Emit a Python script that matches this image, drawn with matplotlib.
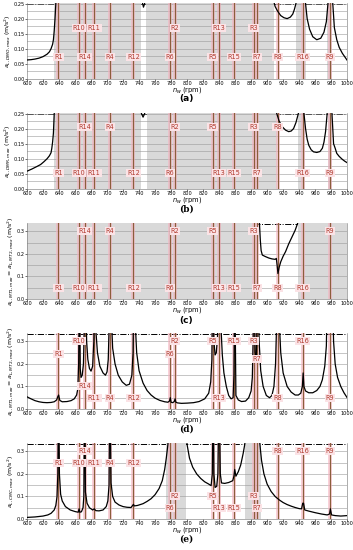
import numpy as np
import matplotlib
matplotlib.use("Agg")
import matplotlib.pyplot as plt
from matplotlib.ticker import MultipleLocator, FormatStrFormatter

# resonance speeds (rpm)
res_names = ["R1", "R10", "R14", "R11", "R4", "R12", "R6", "R2",
             "R5", "R13", "R15", "R3", "R7", "R8", "R16", "R9"]
res_rpm = [639, 665, 672, 684, 703.5, 733, 778.5, 785,
           832, 840, 858.5, 883, 887.5, 913, 944.5, 978.5]

# (a)
a_x = [600, 605, 610, 615, 620, 625, 628, 630, 632, 633, 634, 635, 636, 640, 700, 742,
       744, 745.5, 747, 749, 800, 905, 908, 910, 913, 917, 921, 925, 929, 932, 934, 936,
       938, 942, 946, 948, 950, 953, 957, 962, 967, 971, 974, 976, 978, 980, 982, 984,
       987, 990, 994, 1000]
a_y = [0.063, 0.064, 0.066, 0.069, 0.074, 0.082, 0.09, 0.1, 0.115, 0.13, 0.16, 0.2, 0.25, 0.45, 0.6, 0.3,
       0.255, 0.238, 0.25, 0.3, 0.6, 0.3, 0.26, 0.24, 0.225, 0.21, 0.203, 0.2, 0.205, 0.215, 0.23, 0.25,
       0.3, 0.4, 0.3, 0.25, 0.2, 0.165, 0.14, 0.13, 0.135, 0.155, 0.19, 0.25, 0.5, 0.5, 0.25, 0.17,
       0.13, 0.105, 0.085, 0.062]
a_gray = [(634, 743), (749, 909), (936, 949), (975, 981)]

# (b)
b_x = [600, 606, 612, 617, 621, 625, 628, 630, 631, 632, 633, 634, 640, 700, 740, 743,
       745, 747, 750, 800, 908, 912, 915, 919, 923, 927, 930, 933, 936, 939, 942, 946,
       948, 950, 952, 955, 958, 962, 966, 969, 971, 973, 975, 978, 981, 983, 985, 987,
       990, 994, 997, 1000]
b_y = [0.059, 0.066, 0.074, 0.081, 0.09, 0.1, 0.11, 0.12, 0.135, 0.156, 0.185, 0.25, 0.45, 0.6, 0.3, 0.25,
       0.238, 0.25, 0.3, 0.6, 0.3, 0.25, 0.225, 0.206, 0.195, 0.19, 0.192, 0.2, 0.22, 0.25, 0.35, 0.25,
       0.2, 0.165, 0.145, 0.13, 0.123, 0.121, 0.124, 0.135, 0.155, 0.19, 0.25, 0.5, 0.25, 0.15, 0.135, 0.118,
       0.108, 0.098, 0.092, 0.087]
b_gray = [(634, 742), (750, 912), (938, 947), (976, 981)]

# (c)
c_x = [880, 889, 890.5, 891.5, 892.5, 894, 898, 902, 906, 910, 911.5, 912.5, 913.5, 915, 917,
       920, 923, 927, 931, 935, 938, 945]
c_y = [0.6, 0.4, 0.33, 0.26, 0.215, 0.195, 0.188, 0.182, 0.178, 0.176, 0.18, 0.15, 0.113, 0.14, 0.165,
       0.19, 0.21, 0.245, 0.275, 0.305, 0.335, 0.45]
c_gray = [(600, 888), (939, 1000)]

# (d)
d_x = [600, 605, 610, 615, 620, 625, 630, 634, 637, 638.5, 639.5, 641, 644, 650, 655, 659,
       662, 663.5, 664.5, 665.5, 666.5, 667.5, 669, 670.5, 671.5, 673, 674.5, 676, 678, 680, 682,
       683.5, 684.5, 686, 688, 691, 695, 698, 700, 701.5, 702.5, 704, 705.5, 707, 710, 714, 719,
       724, 728, 731, 732.5, 733.5, 735, 737, 740, 745, 750, 755, 760, 766, 772, 776, 778, 779,
       780, 782, 784, 785, 786, 788, 793, 800, 808, 815, 822, 827, 829.5, 831, 832, 833.5, 835,
       836.5, 838, 839.5, 841, 842.5, 844, 846, 849, 852, 855, 857.5, 858.5, 859.5, 861, 864, 868,
       873, 877, 880, 881.5, 882.5, 883.5, 885, 886.5, 887.5, 888.5, 890, 892, 895, 899, 903, 906,
       908.5, 910.5, 912, 913.5, 915, 917, 920, 925, 930, 935, 939, 942, 944, 945, 946, 948, 952,
       957, 962, 966, 969, 972, 974, 975.5, 979, 981, 983, 985, 988, 992, 996, 1000]
d_y = [0.054, 0.045, 0.037, 0.032, 0.029, 0.028, 0.029, 0.032, 0.04, 0.055, 0.062, 0.038, 0.032, 0.033, 0.037, 0.045,
       0.062, 0.09, 0.2, 0.6, 0.18, 0.14, 0.15, 0.2, 0.35, 0.6, 0.3, 0.22, 0.18, 0.168, 0.19,
       0.3, 0.6, 0.35, 0.25, 0.19, 0.16, 0.15, 0.165, 0.22, 0.35, 0.6, 0.4, 0.27, 0.2, 0.15, 0.12,
       0.105, 0.11, 0.15, 0.25, 0.6, 0.4, 0.25, 0.17, 0.115, 0.082, 0.062, 0.048, 0.038, 0.032, 0.03, 0.035, 0.05,
       0.03, 0.028, 0.033, 0.045, 0.03, 0.027, 0.025, 0.026, 0.028, 0.033, 0.045, 0.07, 0.12, 0.22, 0.6, 0.3, 0.24,
       0.25, 0.32, 0.6, 0.6, 0.35, 0.24, 0.16, 0.1, 0.06, 0.045, 0.05, 0.15, 0.6, 0.06, 0.04, 0.033,
       0.035, 0.05, 0.08, 0.14, 0.3, 0.6, 0.25, 0.22, 0.4, 0.6, 0.3, 0.17, 0.1, 0.06, 0.05, 0.06,
       0.1, 0.2, 0.4, 0.6, 0.4, 0.25, 0.16, 0.1, 0.075, 0.062, 0.062, 0.07, 0.1, 0.16, 0.1, 0.08, 0.072,
       0.072, 0.082, 0.1, 0.13, 0.19, 0.28, 0.6, 0.6, 0.6, 0.3, 0.2, 0.14, 0.1, 0.072, 0.05]

# (e)
e_x = [600, 610, 620, 626, 630, 634, 636, 637.5, 638.5, 639.5, 640.5, 642, 644, 648, 654, 660,
       664, 665, 666, 668, 670, 671, 672, 673, 675, 678, 682, 684, 686, 690, 695, 699, 701,
       702.5, 703.5, 705, 707, 710, 715, 720, 725, 730, 733, 734, 738, 745, 750, 755, 760, 765,
       769, 772, 774, 776, 778, 787, 797, 800, 803, 807, 812, 817, 822, 827, 830, 831.5, 832.5,
       833.5, 835, 837, 838.5, 840, 841.5, 843, 847, 852, 857, 858.5, 859.5, 861, 864, 867, 870,
       872, 875, 881, 888, 891, 893, 896, 900, 905, 910, 915, 920, 925, 930, 935, 940, 943, 944.5,
       945.5, 947, 952, 960, 968, 975, 978, 979, 980.5, 985, 992, 1000]
e_y = [0.007, 0.009, 0.013, 0.018, 0.025, 0.04, 0.06, 0.1, 0.2, 0.6, 0.2, 0.11, 0.08, 0.055, 0.04, 0.033,
       0.03, 0.045, 0.03, 0.032, 0.05, 0.1, 0.6, 0.12, 0.07, 0.05, 0.04, 0.045, 0.037, 0.036, 0.04, 0.055, 0.08,
       0.15, 0.6, 0.16, 0.1, 0.075, 0.062, 0.055, 0.052, 0.051, 0.065, 0.058, 0.06, 0.068, 0.078, 0.09, 0.108, 0.135,
       0.17, 0.22, 0.27, 0.33, 0.45, 0.6, 0.45, 0.33, 0.27, 0.23, 0.2, 0.18, 0.165, 0.155, 0.148, 0.2, 0.6,
       0.2, 0.14, 0.145, 0.2, 0.6, 0.2, 0.16, 0.158, 0.162, 0.17, 0.19, 0.22, 0.19, 0.21, 0.24, 0.29,
       0.33, 0.45, 0.6, 0.45, 0.33, 0.26, 0.2, 0.155, 0.122, 0.1, 0.085, 0.073, 0.064, 0.057, 0.051, 0.046, 0.045, 0.07,
       0.07, 0.04, 0.035, 0.028, 0.022, 0.018, 0.022, 0.045, 0.018, 0.015, 0.013, 0.015]
e_gray = [(774, 799), (872, 892)]

# label heights per panel
a_lab = {"R10": 0.17, "R11": 0.17, "R2": 0.17, "R13": 0.17, "R3": 0.17}
a_low = 0.073
b_lab = {"R14": 0.205, "R4": 0.205, "R2": 0.205, "R5": 0.205, "R3": 0.205, "R8": 0.205}
b_low = 0.052
c_lab = {"R14": 0.30, "R4": 0.30, "R2": 0.30, "R5": 0.30, "R3": 0.30, "R9": 0.30}
c_low = 0.05
d_lab = {"R10": 0.30, "R2": 0.30, "R5": 0.30, "R15": 0.30, "R3": 0.30, "R16": 0.30,
         "R1": 0.245, "R6": 0.245, "R7": 0.22, "R14": 0.10}
d_low = 0.05
e_lab = {"R14": 0.30, "R8": 0.30, "R16": 0.30, "R9": 0.30,
         "R1": 0.25, "R10": 0.25, "R11": 0.25, "R4": 0.25, "R12": 0.25,
         "R2": 0.10, "R5": 0.10, "R3": 0.10}
e_low = 0.05

panels = [
    ("(a)", a_x, a_y, a_gray, a_lab, a_low, 0.25, r"$a_{L,DMO,max}$ (m/s$^2$)", 0.8564, 0.8200, "sans-serif"),
    ("(b)", b_x, b_y, b_gray, b_lab, b_low, 0.25, r"$a_{L,DMR,max}$ (m/s$^2$)", 0.6564, 0.6200, "serif"),
    ("(c)", c_x, c_y, c_gray, c_lab, c_low, 0.335, r"$a_{L,MT1,max}=a_{L,MT2,max}$ (m/s$^2$)", 0.4564, 0.417, "sans-serif"),
    ("(d)", d_x, d_y, [], d_lab, d_low, 0.335, r"$a_{L,MT1,max}=a_{L,MT2,max}$ (m/s$^2$)", 0.2564, 0.2200, "serif"),
    ("(e)", e_x, e_y, e_gray, e_lab, e_low, 0.335, r"$a_{L,CMC,max}$ (m/s$^2$)", 0.0564, 0.0200, "serif"),
]

fig = plt.figure(figsize=(3.53, 5.50), dpi=100)

for tag, xs, ys, gray, lab, low, limit, ylab, bottom, tag_y, tag_font in panels:
    ax = fig.add_axes([0.0765, bottom, 0.907, 0.138])
    top = limit * 1.006
    ax.set_xlim(600, 1000)
    ax.set_ylim(0, top)

    for g0, g1 in gray:
        ax.axvspan(g0, g1, color="#d9d9d9", lw=0, zorder=0.4)
    ax.axhline(limit, color="black", ls="-.", lw=0.7, zorder=0.2)

    for name, r in zip(res_names, res_rpm):
        ax.axvspan(r - 2.5, r + 2.5, color="#f5b3c0", alpha=0.6, lw=0, zorder=0.6)
        ax.axvline(r, color="#8b5e3c", lw=0.85, zorder=1)
        ax.text(r, lab.get(name, low), name, fontsize=4.7, color="#b03a2e",
                ha="center", va="center", zorder=4,
                bbox=dict(boxstyle="square,pad=0.15", fc="#fbe3e6", ec="none"))

    ax.plot(xs, ys, color="black", lw=0.9, zorder=3)

    ax.xaxis.set_major_locator(MultipleLocator(20))
    if limit < 0.3:
        ax.yaxis.set_major_locator(MultipleLocator(0.05))
        ax.yaxis.set_minor_locator(MultipleLocator(0.025))
        ax.yaxis.set_major_formatter(FormatStrFormatter("%.2f"))
    else:
        ax.yaxis.set_major_locator(MultipleLocator(0.1))
        ax.yaxis.set_minor_locator(MultipleLocator(0.05))
        ax.yaxis.set_major_formatter(FormatStrFormatter("%.1f"))
    ax.set_axisbelow(True)
    ax.grid(axis="y", which="both", color="#9a9a9a", lw=0.4)
    ax.tick_params(labelsize=3.6, length=1.2, width=0.4, pad=0.6)
    ax.tick_params(axis="y", which="minor", length=0)
    for side in ["left", "bottom", "right"]:
        ax.spines[side].set_linewidth(0.4)
        ax.spines[side].set_color("#707070")
    ax.spines["top"].set_visible(False)

    ax.set_xlabel(r"$n_w$ (rpm)", fontsize=4.8)
    ax.xaxis.set_label_coords(0.5, -0.15)
    ax.xaxis.label.set_va("center")
    ax.set_ylabel(ylab, fontsize=4.5, labelpad=1)
    fig.text(0.527, tag_y, tag, fontsize=6.5, fontweight="bold", family=tag_font,
             ha="center", va="center")

fig.savefig("out.png", dpi=100)
